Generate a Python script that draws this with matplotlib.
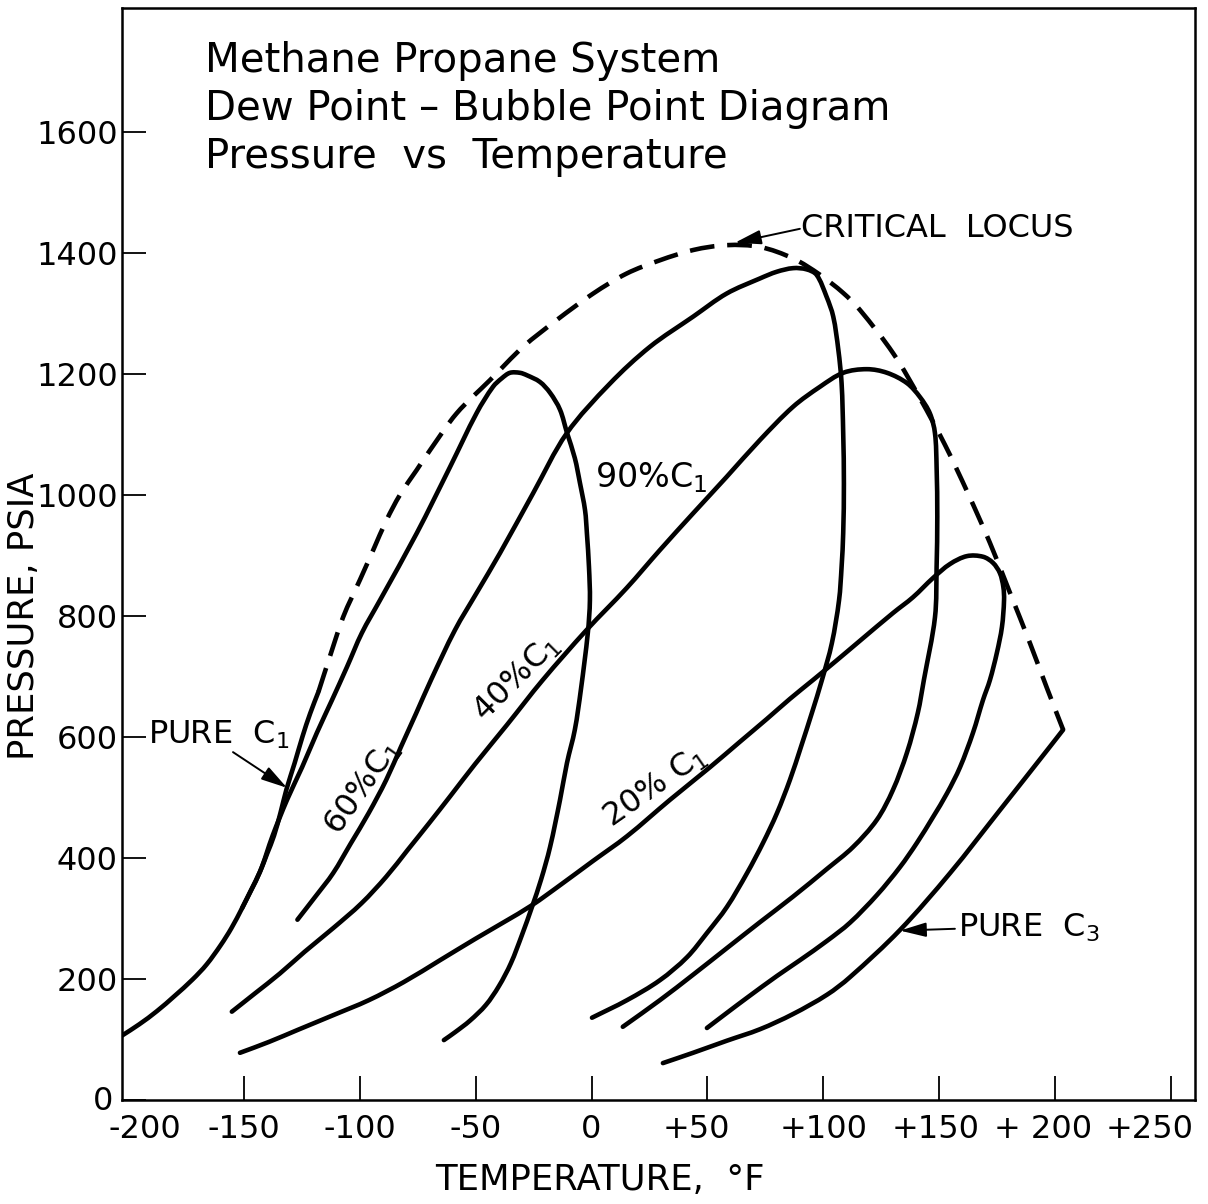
import numpy as np
import matplotlib.pyplot as plt
from matplotlib.path import Path
from matplotlib.patches import PathPatch
from matplotlib.transforms import ScaledTranslation

# Methane-propane system: temperature (deg F) and pressure (psia) along each curve
pure_c1_t = [-202.8, -195.2, -187.5, -179.9, -172.2, -166.1, -160.0, -155.4, -150.8, -146.9,
             -143.1, -140.0, -137.0, -134.2, -131.6, -128.1, -124.7, -121.4, -117.8]
pure_c1_p = [106, 125, 147, 172, 199, 224, 256, 284, 317, 347,
             377, 407, 437, 475, 514, 557, 601, 639, 675]

c1_90_t = [-150.8, -143.1, -137.6, -131.4, -124.9, -118.5, -112.0, -105.5, -99.1, -91.3,
           -75.4, -61.1, -49.5, -42.5, -38.7, -35.2, -30.9, -27.9, -22.3, -17.9,
           -13.6, -10.6, -7.2, -5.0, -2.8, -2.0, -1.1, -0.7, -1.6, -4.6,
           -7.2, -10.6, -13.6, -17.9, -21.8, -25.7, -30.0, -34.8, -40.0, -45.6,
           -52.5, -58.9, -63.7]
c1_90_p = [317, 377, 437, 496, 550, 607, 661, 716, 772, 826,
           937, 1046, 1136, 1179, 1193, 1202, 1202, 1198, 1187, 1169,
           1141, 1103, 1061, 1020, 975, 937, 881, 826, 772, 678,
           612, 557, 496, 418, 364, 319, 273, 226, 188, 157,
           131, 112, 99]

c1_60_t = [-126.9, -119.2, -111.5, -103.9, -96.2, -88.6, -82.2, -75.7, -69.3, -58.9,
           -49.6, -39.5, -25.2, -10.7, 7.9, 25.2, 43.9, 58.3, 72.7, 79.9,
           87.0, 92.8, 97.1, 101.4, 104.3, 106.5, 107.9, 108.6, 108.9, 108.6,
           107.9, 106.8, 103.7, 99.4, 95.1, 90.4, 85.6, 80.0, 74.0, 67.1,
           58.4, 49.8, 41.2, 29.5, 15.3, 0.2]
c1_60_p = [298, 336, 375, 424, 474, 529, 584, 639, 694, 777,
           838, 904, 1003, 1102, 1184, 1245, 1295, 1333, 1358, 1369,
           1375, 1373, 1364, 1328, 1295, 1240, 1185, 1102, 1019, 937,
           881, 826, 755, 694, 640, 584, 529, 474, 425, 375,
           319, 276, 236, 198, 165, 136]

c1_40_t = [-155.2, -145.3, -134.5, -123.8, -111.5, -99.3, -88.6, -79.4, -70.2, -61.0,
           -50.3, -36.5, -21.1, -2.1, 15.1, 29.5, 43.9, 58.3, 72.7, 87.0,
           98.6, 108.6, 118.8, 127.5, 136.1, 141.7, 146.0, 148.2, 148.9, 149.2,
           148.9, 148.2, 143.4, 140.8, 136.1, 130.0, 123.1, 112.8, 101.6, 86.9,
           72.7, 58.4, 43.8, 29.5, 13.5]
c1_40_p = [146, 176, 209, 245, 284, 325, 369, 413, 457, 502,
           555, 620, 694, 777, 846, 909, 970, 1030, 1091, 1146,
           1179, 1202, 1208, 1202, 1185, 1162, 1135, 1102, 1046, 964,
           881, 798, 694, 640, 574, 512, 463, 418, 382, 336,
           294, 251, 207, 165, 121]

c1_20_t = [-151.7, -139.2, -126.7, -111.6, -96.1, -81.0, -65.4, -50.3, -37.8, -25.7,
           -13.6, 0.6, 15.3, 33.8, 51.1, 64.0, 75.7, 85.6, 95.5, 105.9,
           115.8, 130.1, 138.7, 147.4, 154.7, 162.0, 168.9, 173.2, 176.2, 177.7,
           178.0, 177.1, 174.9, 171.9, 168.9, 164.6, 159.0, 153.4, 147.4, 140.4,
           133.1, 123.2, 111.5, 101.6, 89.9, 80.0, 67.1, 58.4, 49.8]
c1_20_p = [78, 96, 116, 140, 165, 195, 231, 266, 294, 322,
           355, 395, 436, 496, 550, 592, 630, 663, 694, 727,
           759, 805, 831, 863, 886, 899, 898, 888, 871, 848,
           826, 782, 739, 694, 661, 607, 550, 507, 468, 425,
           385, 339, 293, 263, 231, 205, 169, 144, 119]

pure_c3_t = [30.8, 43.8, 58.4, 72.7, 86.9, 101.6, 111.5, 133.1, 154.7, 176.2, 197.8, 203.5]
pure_c3_p = [61, 78, 98, 117, 142, 174, 203, 281, 375, 479, 584, 612]

crit_t = [-117.8, -112.9, -107.1, -99.9, -94.2, -88.4, -82.7, -75.5, -69.7, -58.2,
          -43.8, -29.5, -15.1, 0.7, 15.1, 29.5, 43.9, 58.3, 72.7, 87.0,
          98.6, 108.6, 115.8, 130.2, 141.7, 152.5, 162.4, 171.9, 180.6, 189.2,
          196.5, 203.5]
crit_p = [675, 733, 799, 860, 909, 959, 1000, 1041, 1074, 1135,
          1190, 1245, 1289, 1333, 1366, 1388, 1405, 1413, 1410, 1391,
          1364, 1334, 1306, 1234, 1160, 1083, 1003, 921, 838, 755,
          681, 612]

temp_ticks = [-200, -150, -100, -50, 0, 50, 100, 150, 200, 250]
temp_labels = ['-200', '-150', '-100', '-50', '0', '+50', '+100', '+150', '+ 200', '+250']
pres_ticks = [0, 200, 400, 600, 800, 1000, 1200, 1400, 1600]


def smooth_path(ax, t, p):
    # cubic Bezier pieces through the points, tangents spaced by on-screen chord length
    pts = np.column_stack([t, p]).astype(float)
    scr = ax.transData.transform(pts)
    d = np.hypot(*np.diff(scr, axis=0).T)
    n = len(pts)
    tan = np.zeros_like(pts)
    tan[0] = (pts[1] - pts[0]) / d[0]
    tan[-1] = (pts[-1] - pts[-2]) / d[-1]
    for i in range(1, n - 1):
        tan[i] = (pts[i + 1] - pts[i - 1]) / (d[i - 1] + d[i])
    verts = [pts[0]]
    codes = [Path.MOVETO]
    for i in range(n - 1):
        verts += [pts[i] + tan[i] * d[i] / 3, pts[i + 1] - tan[i + 1] * d[i] / 3, pts[i + 1]]
        codes += [Path.CURVE4] * 3
    return Path(verts, codes)


plt.rcParams['font.family'] = ['DejaVu Sans']

fig = plt.figure(figsize=(12.08, 12.04), dpi=100)
ax = fig.add_axes([122 / 1208, 104 / 1204, 1073 / 1208, 1092 / 1204])
ax.set_xlim(-202.6, 260.4)
ax.set_ylim(0, 1805)

for t, p in [(pure_c1_t, pure_c1_p), (c1_90_t, c1_90_p), (c1_60_t, c1_60_p),
             (c1_40_t, c1_40_p), (c1_20_t, c1_20_p), (pure_c3_t, pure_c3_p)]:
    ax.add_patch(PathPatch(smooth_path(ax, t, p), fill=False, ec='black', lw=3.3,
                           capstyle='round', joinstyle='round'))
ax.add_patch(PathPatch(smooth_path(ax, crit_t, crit_p), fill=False, ec='black', lw=3.3,
                       linestyle=(0, (5.4, 2.8)), capstyle='butt'))

ax.set_xticks(temp_ticks)
ax.set_xticklabels(temp_labels)
ax.set_yticks(pres_ticks)
ax.set_yticklabels([str(v) for v in pres_ticks])
ax.tick_params(direction='in', length=17, width=1.3, labelsize=23, top=False, right=False)
ax.tick_params(axis='x', pad=10)
ax.tick_params(axis='y', pad=3)
for s in ax.spines.values():
    s.set_linewidth(1.8)

# -200 sits on the frame: no tick mark there; a few labels sit off-centre
ax.xaxis.get_major_ticks()[0].tick1line.set_visible(False)
label_shift = {-200: 17, 50: -11, 150: -4, 200: -12, 250: -21}
for tick, val in zip(ax.xaxis.get_major_ticks(), temp_ticks):
    if val in label_shift:
        tick.label1.set_transform(tick.label1.get_transform()
                                  + ScaledTranslation(label_shift[val] / 100, 0,
                                                      fig.dpi_scale_trans))
zero = ax.yaxis.get_major_ticks()[0].label1
zero.set_transform(zero.get_transform() + ScaledTranslation(-0.05, 0.02, fig.dpi_scale_trans))

# titles and axis names
title_lines = ['Methane Propane System', 'Dew Point \u2013 Bubble Point Diagram',
               'Pressure  vs  Temperature']
for i, line in enumerate(title_lines):
    fig.text(205 / 1208, 1 - (72 + 48 * i) / 1204, line, fontsize=29, va='baseline', ha='left')
fig.text(600 / 1208, 1 - 1180 / 1204, 'TEMPERATURE,  \u00b0F', fontsize=25.5,
         ha='center', va='center')
fig.text(24 / 1208, 1 - 616 / 1204, 'PRESSURE, PSIA', fontsize=25.5, rotation=90,
         ha='center', va='center')

# curve labels
lab = dict(fontsize=23, ha='center', va='center', rotation_mode='anchor')
ax.text(1.5, 1028, '90%C$\\mathregular{_1}$', fontsize=24, ha='left', va='center')
ax.text(-98.6, 516, '60%C$\\mathregular{_1}$', rotation=55, **lab)
ax.text(-32.2, 697, '40%C$\\mathregular{_1}$', rotation=45, **lab)
ax.text(27.4, 518, '20% C$\\mathregular{_1}$', rotation=35, **lab)

arrow = dict(arrowstyle='-|>,head_length=0.8,head_width=0.22', color='black', lw=1.4,
             mutation_scale=20, shrinkA=0, shrinkB=0)
ax.text(90.5, 1441, 'CRITICAL  LOCUS', fontsize=23, ha='left', va='center')
ax.annotate('', xy=(61.9, 1417), xytext=(89.9, 1440), arrowprops=arrow)

ax.text(-191.4, 603, 'PURE  C$\\mathregular{_1}$', fontsize=23, ha='left', va='center')
ax.annotate('', xy=(-131.4, 516), xytext=(-154.7, 575), arrowprops=arrow)

ax.text(158.2, 284, 'PURE  C$\\mathregular{_3}$', fontsize=23, ha='left', va='center')
ax.annotate('', xy=(133.1, 280), xytext=(156.8, 283), arrowprops=arrow)

fig.savefig('out.png', dpi=100, facecolor='white')
